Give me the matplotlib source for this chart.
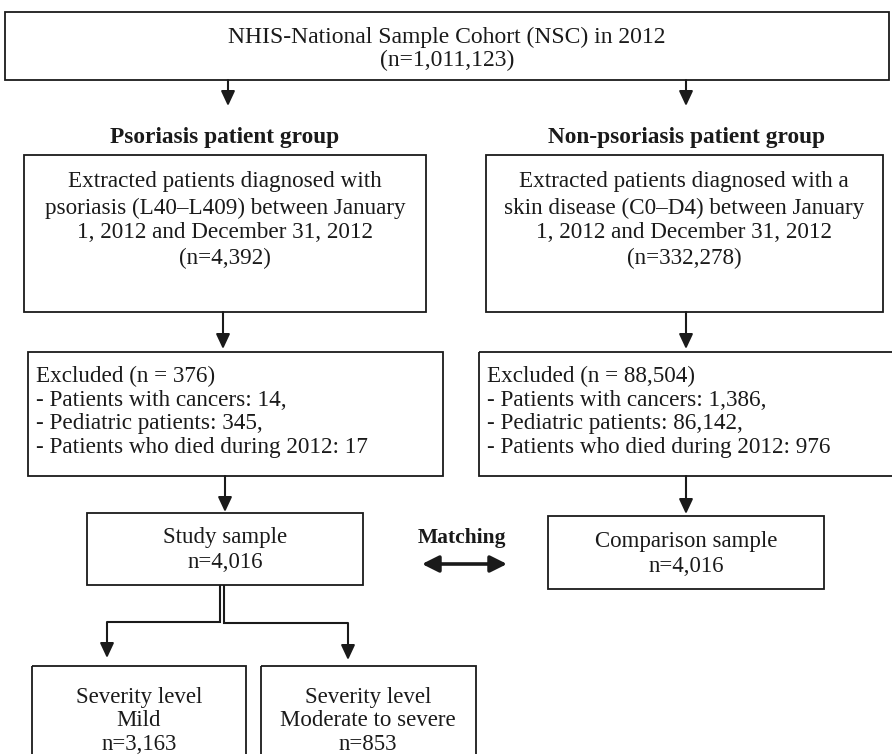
import matplotlib
matplotlib.use("Agg")
import matplotlib.pyplot as plt
from matplotlib.patches import Rectangle

plt.rcParams['font.family'] = ['Liberation Serif', 'DejaVu Serif']

# ---- content ----
top_lines = ["NHIS-National Sample Cohort (NSC) in 2012", "(n=1,011,123)"]
group_titles = ["Psoriasis patient group", "Non-psoriasis patient group"]
extract_left = ["Extracted patients diagnosed with",
                "psoriasis (L40\u2013L409) between January",
                "1, 2012 and December 31, 2012",
                "(n=4,392)"]
extract_right = ["Extracted patients diagnosed with a",
                 "skin disease (C0\u2013D4) between January",
                 "1, 2012 and December 31, 2012",
                 "(n=332,278)"]
excl_left = ["Excluded (n = 376)",
             "- Patients with cancers: 14,",
             "- Pediatric patients: 345,",
             "- Patients who died during 2012: 17"]
excl_right = ["Excluded (n = 88,504)",
              "- Patients with cancers: 1,386,",
              "- Pediatric patients: 86,142,",
              "- Patients who died during 2012: 976"]
study_lines = ["Study sample", "n=4,016"]
comp_lines = ["Comparison sample", "n=4,016"]
matching_label = "Matching"
mild_lines = ["Severity level", "Mild", "n=3,163"]
mod_lines = ["Severity level", "Moderate to severe", "n=853"]

W, H = 892, 754
fig = plt.figure(figsize=(W / 100, H / 100), dpi=100)
ax = fig.add_axes([0, 0, 1, 1])
ax.set_xlim(0, W)
ax.set_ylim(H, 0)
ax.axis('off')

FS = 16.7
LW = 1.3
col = '#1a1a1a'


def box(x0, y0, x1, y1):
    ax.add_patch(Rectangle((x0, y0), x1 - x0, y1 - y0, fill=False,
                           edgecolor=col, linewidth=LW))


def lines_center(lines, xc, ys, fs=FS, **kw):
    for t, y in zip(lines, ys):
        ax.text(xc, y, t, ha='center', va='center', fontsize=fs, color=col, **kw)


def lines_left(lines, x, ys, fs=FS):
    for t, y in zip(lines, ys):
        ax.text(x, y, t, ha='left', va='center', fontsize=fs, color=col)


def arrow(x0, y0, x1, y1):
    ax.annotate('', xy=(x1, y1), xytext=(x0, y0),
                arrowprops=dict(arrowstyle='-|>,head_length=0.9,head_width=0.42',
                                color=col, lw=1.5, shrinkA=0, shrinkB=0,
                                mutation_scale=10))


def seg(xs, ys):
    ax.plot(xs, ys, color=col, lw=1.5, solid_capstyle='butt',
            solid_joinstyle='miter')


# top box
box(5, 12, 889, 80)
lines_center(top_lines, 447, [37, 60], fs=17)
arrow(228, 80, 228, 106)
arrow(686, 80, 686, 106)

# group titles
ax.text(225, 137, group_titles[0], ha='center', va='center', fontsize=16.8,
        fontweight='bold', color=col)
ax.text(686, 137, group_titles[1], ha='center', va='center', fontsize=16.8,
        fontweight='bold', color=col)

# extraction boxes
box(24, 155, 426, 312)
lines_center(extract_left, 225, [182, 208, 233, 258])
box(486, 155, 883, 312)
lines_center(extract_right, 684, [182, 208, 233, 258])
arrow(223, 312, 223, 349)
arrow(686, 312, 686, 349)

# exclusion boxes
box(28, 352, 443, 476)
lines_left(excl_left, 36, [376, 400, 424, 448])
box(479, 352, 895, 476)
lines_left(excl_right, 487, [376, 400, 424, 448])
arrow(225, 476, 225, 512)
arrow(686, 476, 686, 514)

# study / comparison
box(87, 513, 363, 585)
lines_center(study_lines, 225, [537, 562], fs=16.5)
box(548, 516, 824, 589)
lines_center(comp_lines, 686, [541, 566], fs=16.5)
ax.text(462, 538, matching_label, ha='center', va='center', fontsize=15.5,
        fontweight='bold', color=col)
ax.annotate('', xy=(507, 564), xytext=(422, 564),
            arrowprops=dict(arrowstyle='<|-|>,head_length=1.0,head_width=0.5',
                            color=col, lw=2.6, shrinkA=0, shrinkB=0,
                            mutation_scale=10))

# split
seg([220, 220, 107], [585, 622, 622])
arrow(107, 622, 107, 658)
seg([224, 224, 348], [585, 623, 623])
arrow(348, 623, 348, 660)

# severity boxes
box(32, 666, 246, 760)
lines_center(mild_lines, 139, [697, 721, 744], fs=16.5)
box(261, 666, 476, 760)
lines_center(mod_lines, 368, [697, 721, 744], fs=16.5)

fig.savefig('out.png', dpi=100)
